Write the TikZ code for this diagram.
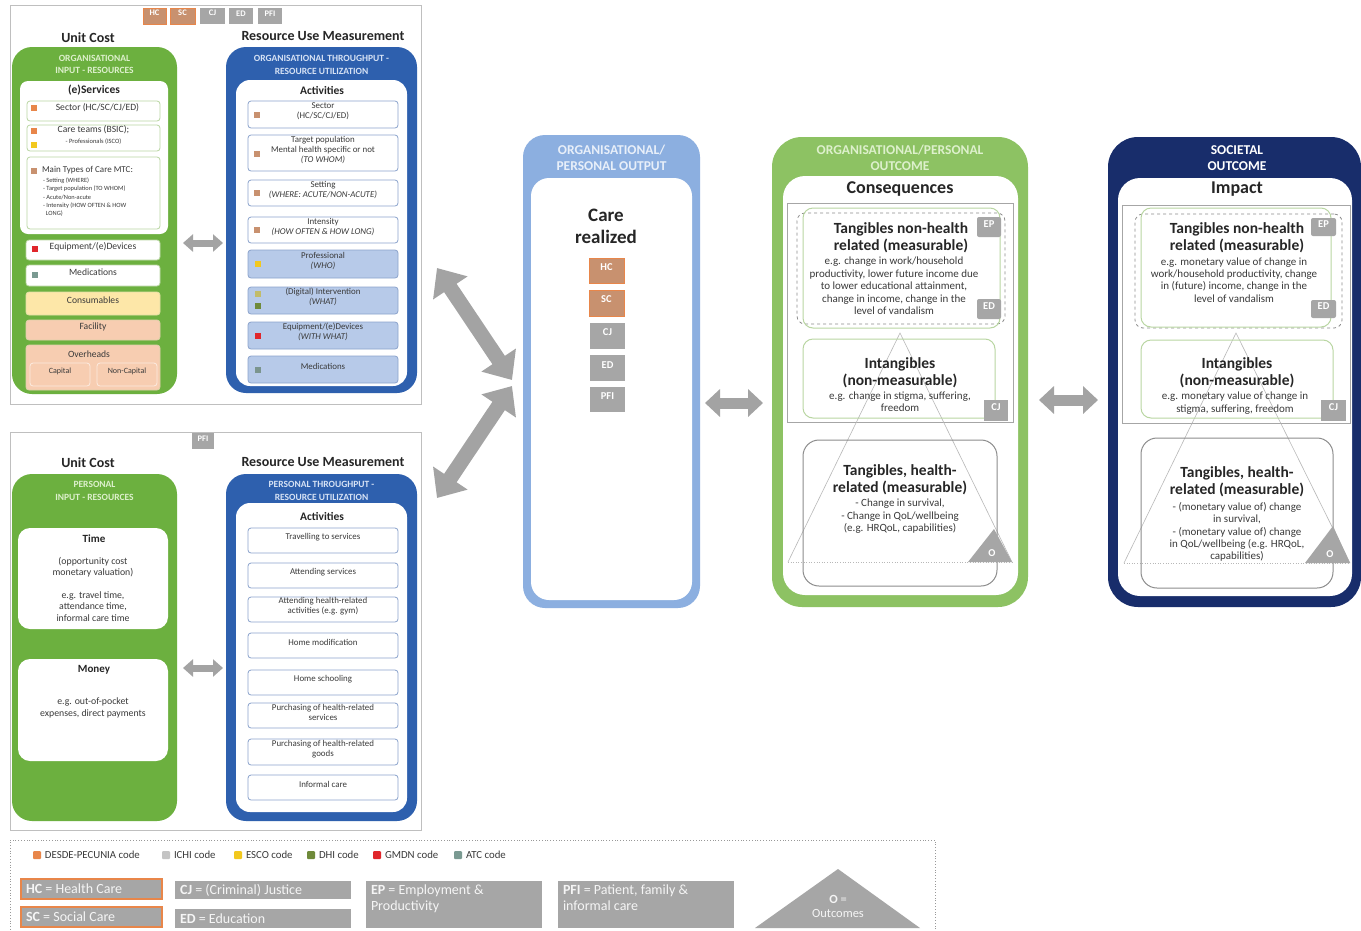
\documentclass[tikz,border=0pt]{standalone}
\usepackage{fontspec}
\setmainfont{Carlito}
\usetikzlibrary{arrows.meta,fit,calc}

\definecolor{gA}{HTML}{6CB03F}
\definecolor{gB}{HTML}{8DC263}
\definecolor{gHead}{HTML}{DDF0CC}
\definecolor{gLine}{HTML}{B9D6A2}
\definecolor{bA}{HTML}{2E60AE}
\definecolor{bHead}{HTML}{D6E2F5}
\definecolor{bLine}{HTML}{8BA3CC}
\definecolor{bFill}{HTML}{B7CAE9}
\definecolor{bB}{HTML}{8CAFE0}
\definecolor{navy}{HTML}{182D6B}
\definecolor{cOr}{HTML}{E8864A}
\definecolor{tagO}{HTML}{C8916F}
\definecolor{tagG}{HTML}{A6A6A6}
\definecolor{cYel}{HTML}{F2C81E}
\definecolor{cRed}{HTML}{E0262B}
\definecolor{cOlv}{HTML}{6F8A3A}
\definecolor{cAtc}{HTML}{7A9A92}
\definecolor{cIchi}{HTML}{C4C4C4}
\definecolor{cKhaki}{HTML}{C2BC6A}
\definecolor{consum}{HTML}{FDE7A8}
\definecolor{salmon}{HTML}{F7CDB1}
\definecolor{txt}{HTML}{3A3A3A}
\definecolor{arrowg}{HTML}{A3A3A3}

\newcommand\fsz[2]{\fontsize{#1}{#2}\selectfont}

\tikzset{
  every node/.style={inner sep=0pt, outer sep=0pt},
  frame/.style={draw=black!25, line width=0.9pt},
  ttl/.style={font=\fsz{14}{16}\bfseries, text=black!85},
  hdsmall/.style={font=\fsz{9.5}{12.5}\bfseries, align=center},
  hdbig/.style={font=\fsz{13.5}{16}\bfseries, align=center},
  subttl/.style={font=\fsz{11.5}{13}\bfseries, text=black!85},
  gpanel/.style={fill=gA, rounded corners=20pt},
  bpanel/.style={fill=bA, rounded corners=20pt},
  wpanel/.style={fill=white, rounded corners=12pt},
  item/.style={line width=0.8pt, rounded corners=3pt, text=txt, align=center},
  gitem/.style={item, draw=gLine, fill=white, font=\fsz{9.6}{11}},
  bitem/.style={item, draw=bLine, fill=white, font=\fsz{8.9}{10.2}},
  bitemf/.style={bitem, fill=bFill},
  sq/.style={minimum size=6pt},
  otag/.style={fill=tagO, draw=cOr, line width=1pt, text=white, font=\fsz{8.5}{10}\bfseries},
  gtag/.style={fill=tagG, text=white, font=\fsz{8.5}{10}\bfseries},
  bigtag/.style={font=\fsz{10.5}{12}\bfseries},
  hdg/.style={font=\fsz{15.5}{17}\bfseries, text=black!85, align=center},
  desc/.style={font=\fsz{11}{12.4}, text=txt, align=center},
  tier/.style={draw=black!35, line width=0.6pt},
  pyr/.style={draw=black!28, line width=0.6pt},
  dashbox/.style={draw=black!45, dashed, line width=0.8pt, rounded corners=8pt},
  greenbox/.style={draw=gLine, line width=1pt, rounded corners=10pt},
  graybox/.style={draw=black!45, line width=1pt, rounded corners=16pt},
  tinytri/.style={fill=tagG},
  legtxt/.style={font=\fsz{10.8}{12}, text=txt},
  legbox/.style={fill=tagG},
  legboxtxt/.style={font=\fsz{14}{15.5}, text=white!96!black, align=left},
  arrS/.style={draw=arrowg, line width=7pt, {Triangle[length=10pt,width=17pt]}-{Triangle[length=10pt,width=17pt]}},
  arrM/.style={draw=arrowg, line width=11pt, {Triangle[length=15pt,width=27pt]}-{Triangle[length=15pt,width=27pt]}},
  arrL/.style={draw=arrowg, line width=15pt, {Triangle[length=24pt,width=40pt]}-{Triangle[length=24pt,width=40pt]}},
}

\begin{document}
\begin{tikzpicture}[x=1pt,y=-1pt]
\useasboundingbox (0,0) rectangle (1361,930);
\fill[white] (0,0) rectangle (1361,930);

% ===== organisational input and throughput =====
\node[frame, fit={(10,5)(421,404)}] (orgframe) {};
\node[otag, fit={(143,8)(166,24)}] (tHC) {HC};
\node[otag, fit={(170,8)(195,24)}] (tSC) {SC};
\node[gtag, fit={(200,8)(225,24)}] (tCJ) {CJ};
\node[gtag, fit={(229,8)(253,24)}] (tED) {ED};
\node[gtag, fit={(258,8)(282,24)}] (tPFI) {PFI};

\node[ttl] (ucA) at (88,38) {Unit Cost};
\node[gpanel, fit={(12,47)(177,394)}] (orgin) {};
\node[hdsmall, text=gHead] at (94.5,64.5) {ORGANISATIONAL\\INPUT - RESOURCES};
\node[wpanel, rounded corners=8pt, fit={(20,81)(168,234)}] (eserv) {};
\node[subttl] at (94,90) {(e)Services};
\node[gitem, fit={(27,101)(160,121)}] (iSector) {\hspace*{8pt}Sector (HC/SC/CJ/ED)};
\node[gitem, fit={(27,125)(160,151)}] (iTeams) {Care teams (BSIC);\\{\fsz{6.5}{8}- Professionals (ISCO)}};
\node[gitem, fit={(27,157)(160,229)}] (iTypes) {};
\node[anchor=north west, font=\fsz{9}{10}, text=txt] at (42,166) {Main Types of Care MTC:};
\node[anchor=north west, align=left, font=\fsz{6.4}{8.2}, text=txt] at (43,178)
  {- Setting (WHERE)\\- Target population (TO WHOM)\\- Acute/Non-acute\\- Intensity (HOW OFTEN \& HOW\\\ \ LONG)};
\node[sq, fill=cOr] at (34,108) {};
\node[sq, fill=cOr] at (34,131) {};
\node[sq, fill=cYel] at (34,145) {};
\node[sq, fill=tagO] at (34,171) {};

\node[gitem, fit={(26,240)(160,260)}] (iEquip) {Equipment/(e)Devices};
\node[sq, fill=cRed] at (35,249) {};
\node[gitem, fit={(26,265)(160,286)}] (iMed) {Medications};
\node[sq, fill=cAtc] at (35,275) {};
\node[gitem, draw=consum!60!gLine, fill=consum, fit={(26,292)(160,315)}] (iCons) {Consumables};
\node[gitem, draw=salmon!60!gLine, fill=salmon, fit={(26,320)(160,340)}] (iFac) {Facility};
\node[gitem, draw=salmon!60!gLine, fill=salmon, fit={(26,345)(160,390)}] (iOver) {};
\node[font=\fsz{9.6}{11}, text=txt] at (89,354) {Overheads};
\node[gitem, fill=salmon, draw=white!60!salmon, font=\fsz{8}{9}, fit={(30,363)(90,386)}] (iCap) {Capital};
\node[gitem, fill=salmon, draw=white!60!salmon, font=\fsz{8}{9}, fit={(97,363)(157,386)}] (iNonCap) {Non-Capital};

\node[ttl] (rumA) at (323,36) {Resource Use Measurement};
\node[bpanel, fit={(226,47)(417,393)}] (orgthr) {};
\node[hdsmall, text=bHead] at (321.5,65) {ORGANISATIONAL THROUGHPUT -\\RESOURCE UTILIZATION};
\node[wpanel, rounded corners=14pt, fit={(236,80)(407,386)}] (actA) {};
\node[subttl] at (322,90) {Activities};
\node[bitem, fit={(248,101)(398,128)}] (aSector) {Sector\\(HC/SC/CJ/ED)};
\node[bitem, fit={(248,135)(398,171)}] (aTarget) {Target population\\Mental health specific or not\\\textit{(TO WHOM)}};
\node[bitem, fit={(248,180)(398,206)}] (aSetting) {Setting\\\textit{(WHERE: ACUTE/NON-ACUTE)}};
\node[bitem, fit={(248,217)(398,243)}] (aIntens) {Intensity\\\textit{(HOW OFTEN \& HOW LONG)}};
\node[bitemf, fit={(248,250)(398,278)}] (aProf) {Professional\\\textit{(WHO)}};
\node[bitemf, fit={(248,287)(398,314)}] (aDigit) {(Digital) Intervention\\\textit{(WHAT)}};
\node[bitemf, fit={(248,322)(398,349)}] (aEquip) {Equipment/(e)Devices\\\textit{(WITH WHAT)}};
\node[bitemf, fit={(248,356)(398,383)}] (aMed) {Medications};
\node[sq, fill=tagO] at (257,115) {};
\node[sq, fill=tagO] at (257,154) {};
\node[sq, fill=tagO] at (257,193) {};
\node[sq, fill=tagO] at (257,230) {};
\node[sq, fill=cYel] at (258,264) {};
\node[sq, fill=cKhaki] at (258,294) {};
\node[sq, fill=cOlv] at (258,306) {};
\node[sq, fill=cRed] at (258,336) {};
\node[sq, fill=cAtc!80!gray] at (258,370) {};

% ===== personal input and throughput =====
\node[frame, fit={(10,432)(421,830)}] (perframe) {};
\node[gtag, fit={(192,433)(214,449)}] (pPFI) {PFI};

\node[ttl] (ucB) at (88,463) {Unit Cost};
\node[gpanel, fit={(12,474)(177,821)}] (perin) {};
\node[hdsmall, text=gHead] at (94.5,491) {PERSONAL\\INPUT - RESOURCES};
\node[wpanel, fit={(18,528)(168,629)}] (time) {};
\node[font=\fsz{11}{12}\bfseries, text=black!85] at (94,539) {Time};
\node[align=center, font=\fsz{9.8}{11.4}, text=txt] at (93,589)
  {(opportunity cost\\monetary valuation)\\[11.4pt]e.g. travel time,\\attendance time,\\informal care time};
\node[wpanel, fit={(18,659)(168,761)}] (money) {};
\node[font=\fsz{11}{12}\bfseries, text=black!85] at (94,670) {Money};
\node[align=center, font=\fsz{9.8}{11.4}, text=txt] at (93,708)
  {e.g. out-of-pocket\\expenses, direct payments};

\node[ttl] (rumB) at (323,462) {Resource Use Measurement};
\node[bpanel, fit={(226,474)(417,821)}] (perthr) {};
\node[hdsmall, text=bHead] at (321.5,491) {PERSONAL THROUGHPUT -\\RESOURCE UTILIZATION};
\node[wpanel, rounded corners=14pt, fit={(236,503)(407,812)}] (actB) {};
\node[subttl] at (322,516) {Activities};
\node[bitem, fit={(248,528)(398,553)}] (bTravel) {Travelling to services};
\node[bitem, fit={(248,563)(398,588)}] (bAttend) {Attending services};
\node[bitem, fit={(248,597)(398,622)}] (bGym) {Attending health-related\\activities (e.g. gym)};
\node[bitem, fit={(248,633)(398,658)}] (bHome) {Home modification};
\node[bitem, fit={(248,670)(398,695)}] (bSchool) {Home schooling};
\node[bitem, fit={(248,703)(398,728)}] (bPurS) {Purchasing of health-related\\services};
\node[bitem, fit={(248,739)(398,765)}] (bPurG) {Purchasing of health-related\\goods};
\node[bitem, fit={(248,775)(398,800)}] (bInf) {Informal care};

% ===== output =====
\node[fill=bB, rounded corners=22pt, fit={(523,135)(700,608)}] (output) {};
\node[hdbig, text=white!80!bB] at (611.5,158) {ORGANISATIONAL/\\PERSONAL OUTPUT};
\node[wpanel, rounded corners=18pt, fit={(531,178)(692,600)}] (outin) {};
\node[font=\fsz{19}{22}\bfseries, align=center, text=black!85] at (606,226) {Care\\realized};
\node[otag, bigtag, fit={(589,258)(624,283)}] (oHC) {HC};
\node[otag, bigtag, fit={(589,290)(624,316)}] (oSC) {SC};
\node[gtag, bigtag, fit={(590,323)(625,349)}] (oCJ) {CJ};
\node[gtag, bigtag, fit={(590,355)(625,381)}] (oED) {ED};
\node[gtag, bigtag, fit={(590,387)(625,412)}] (oPFI) {PFI};

% ===== organisational / personal outcome =====
\node[fill=gB, rounded corners=30pt, fit={(772,137)(1028,607)}] (conseq) {};
\node[hdbig, text=gHead] at (900,158) {ORGANISATIONAL/PERSONAL\\OUTCOME};
\node[wpanel, rounded corners=22pt, fit={(783,176)(1018,595)}] (conin) {};
\node[font=\fsz{18}{20}\bfseries, text=black!85] at (900,189) {Consequences};
\node[tier, fit={(787,203)(1013,422)}] (cTier) {};
\draw[pyr] (788,562) -- (900,333) -- (1012,562);
\draw[pyr, dotted] (788,562) -- (1012,562);
\node[dashbox, fit={(797,213)(1005,324)}] (cDash) {};
\node[greenbox, fit={(803,208)(1000,328)}] (cNonH) {};
\node[hdg] at (901,237.5) {Tangibles non-health\\related (measurable)};
\node[desc] at (894,286) {e.g. change in work/household\\productivity, lower future income due\\to lower educational attainment,\\change in income, change in the\\level of vandalism};
\node[gtag, bigtag, rounded corners=2pt, fit={(977,217)(1001,237)}] (cEP) {EP};
\node[gtag, bigtag, rounded corners=2pt, fit={(977,299)(1001,319)}] (cED) {ED};
\node[greenbox, fit={(803,339)(995,418)}] (cIntang) {};
\node[hdg] at (900,372.5) {Intangibles\\(non-measurable)};
\node[desc] at (900,402) {e.g. change in stigma, suffering,\\freedom};
\node[gtag, bigtag, fit={(984,400)(1008,421)}] (cCJ) {CJ};
\node[graybox, fit={(803,440)(997,586)}] (cHealth) {};
\node[hdg] at (900,479.5) {Tangibles, health-\\related (measurable)};
\node[desc] at (900,516.5) {- Change in survival,\\- Change in QoL/wellbeing\\(e.g. HRQoL, capabilities)};
\fill[tinytri] (968,562) -- (1012,562) -- (994,529) -- cycle;
\node[font=\fsz{10.5}{11}\bfseries, text=white] at (992,553) {O};

% ===== societal outcome =====
\node[fill=navy, rounded corners=30pt, fit={(1108,137)(1361,607)}] (impact) {};
\node[hdbig, text=white] at (1237,158) {SOCIETAL\\OUTCOME};
\node[wpanel, rounded corners=22pt, fit={(1118,178)(1352,596)}] (impin) {};
\node[font=\fsz{18}{20}\bfseries, text=black!85] at (1237,189) {Impact};
\node[tier, fit={(1122,205)(1350,423)}] (sTier) {};
\draw[pyr] (1124,563) -- (1236,333) -- (1350,563);
\draw[pyr, dotted] (1124,563) -- (1350,563);
\node[dashbox, fit={(1135,214)(1342,328)}] (sDash) {};
\node[greenbox, fit={(1141,208)(1331,327)}] (sNonH) {};
\node[hdg] at (1237,237.5) {Tangibles non-health\\related (measurable)};
\node[desc] at (1234,280) {e.g. monetary value of change in\\work/household productivity, change\\in (future) income, change in the\\level of vandalism};
\node[gtag, bigtag, rounded corners=2pt, fit={(1311,218)(1336,236)}] (sEP) {EP};
\node[gtag, bigtag, rounded corners=2pt, fit={(1311,300)(1336,318)}] (sED) {ED};
\node[greenbox, fit={(1141,340)(1333,418)}] (sIntang) {};
\node[hdg] at (1237,372.5) {Intangibles\\(non-measurable)};
\node[desc] at (1235,403) {e.g. monetary value of change in\\stigma, suffering, freedom};
\node[gtag, bigtag, fit={(1321,400)(1346,421)}] (sCJ) {CJ};
\node[graybox, fit={(1141,438)(1333,588)}] (sHealth) {};
\node[hdg] at (1237,481.5) {Tangibles, health-\\related (measurable)};
\node[desc] at (1237,532) {- (monetary value of) change\\in survival,\\- (monetary value of) change\\in QoL/wellbeing (e.g. HRQoL,\\capabilities)};
\fill[tinytri] (1305,563) -- (1350,563) -- (1333,526) -- cycle;
\node[font=\fsz{10.5}{11}\bfseries, text=white] at (1330,554) {O};

% ===== connecting arrows =====
\coordinate (a1s) at (183,243);  \coordinate (a1e) at (223,243);
\coordinate (a2s) at (183,668);  \coordinate (a2e) at (223,668);
\coordinate (a3s) at (437,268);  \coordinate (a3e) at (512,380);
\coordinate (a4s) at (437,498);  \coordinate (a4e) at (512,386);
\coordinate (a5s) at (705,403);  \coordinate (a5e) at (763,403);
\coordinate (a6s) at (1039,400); \coordinate (a6e) at (1098,400);
\draw[arrS] (a1s) -- (a1e);
\draw[arrS] (a2s) -- (a2e);
\draw[arrL] (a3s) -- (a3e);
\draw[arrL] (a4s) -- (a4e);
\draw[arrM] (a5s) -- (a5e);
\draw[arrM] (a6s) -- (a6e);

% ===== legend =====
\node[draw=black!40, dotted, line width=0.8pt, fit={(10,840)(935,945)}] (legend) {};
\node[sq, minimum size=8pt, fill=cOr, rounded corners=1pt] (k1) at (37,855) {};
\node[legtxt, anchor=west] at (45,855) {DESDE-PECUNIA code};
\node[sq, minimum size=8pt, fill=cIchi, rounded corners=1pt] (k2) at (166,855) {};
\node[legtxt, anchor=west] at (174,855) {ICHI code};
\node[sq, minimum size=8pt, fill=cYel, rounded corners=1pt] (k3) at (238,855) {};
\node[legtxt, anchor=west] at (246,855) {ESCO code};
\node[sq, minimum size=8pt, fill=cOlv, rounded corners=1pt] (k4) at (311,855) {};
\node[legtxt, anchor=west] at (319,855) {DHI code};
\node[sq, minimum size=8pt, fill=cRed, rounded corners=1pt] (k5) at (377,855) {};
\node[legtxt, anchor=west] at (385,855) {GMDN code};
\node[sq, minimum size=8pt, fill=cAtc, rounded corners=1pt] (k6) at (458,855) {};
\node[legtxt, anchor=west] at (466,855) {ATC code};

\node[legbox, draw=cOr, line width=1.6pt, fit={(21,879)(162,899)}] (lHC) {};
\node[legboxtxt, anchor=west] at (26,889) {\textbf{HC} = Health Care};
\node[legbox, draw=cOr, line width=1.6pt, fit={(21,907)(162,927)}] (lSC) {};
\node[legboxtxt, anchor=west] at (26,917) {\textbf{SC} = Social Care};
\node[legbox, fit={(175,881)(351,899)}] (lCJ) {};
\node[legboxtxt, anchor=west] at (180,890) {\textbf{CJ} = (Criminal) Justice};
\node[legbox, fit={(175,909)(351,928)}] (lED) {};
\node[legboxtxt, anchor=west] at (180,918.5) {\textbf{ED} = Education};
\node[legbox, fit={(366,881)(542,928)}] (lEP) {};
\node[legboxtxt, anchor=north west] at (371,885) {\textbf{EP} = Employment \&\\Productivity};
\node[legbox, fit={(558,881)(734,928)}] (lPFI) {};
\node[legboxtxt, anchor=north west] at (563,885) {\textbf{PFI} = Patient, family \&\\informal care};
\fill[tagG] (755,928) -- (920,928) -- (838,869) -- cycle;
\node[legboxtxt, align=center, font=\fsz{12.5}{14}] at (838,906) {\textbf{O} =\\Outcomes};
\end{tikzpicture}
\end{document}
